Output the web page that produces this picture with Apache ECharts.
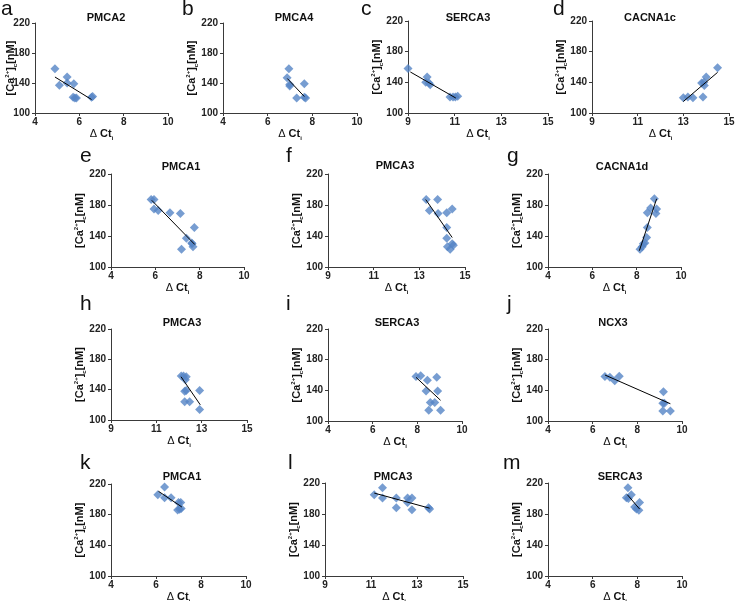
<!DOCTYPE html>
<html>
<head>
<meta charset="utf-8">
<script src="https://cdn.jsdelivr.net/npm/echarts@6/dist/echarts.min.js"></script>
<style>
html,body{margin:0;padding:0;background:#fff;}
#c{width:735px;height:601px;}
</style>
</head>
<body>
<div id="c"></div>
<script>
// ---------- data ----------
const titles = ['PMCA2','PMCA4','SERCA3','CACNA1c','PMCA1','PMCA3','CACNA1d','PMCA3','SERCA3','NCX3','PMCA1','PMCA3','SERCA3'];
const letters = ['a','b','c','d','e','f','g','h','i','j','k','l','m'];
const xTicksLow = [4, 6, 8, 10];
const xTicksHigh = [9, 11, 13, 15];
const yTicks = [100, 140, 180, 220];

const aX = [4.9, 5.1, 5.45, 5.45, 5.75, 5.72, 5.8, 5.87, 6.55, 6.6];
const aY = [159, 137, 148, 140, 139, 121, 120, 120, 121, 122];
const aFitX = [4.9, 6.55], aFitY = [148, 118];

const bX = [6.95, 6.87, 6.99, 6.99, 7.3, 7.64, 7.64, 7.7];
const bY = [159, 147, 138, 136, 120, 139, 121, 120];
const bFitX = [6.88, 7.64], bFitY = [146, 122];

const cX = [9.0, 9.82, 9.76, 9.9, 9.95, 10.8, 10.93, 11.03, 11.13];
const cY = [158, 147, 140, 139, 137, 121, 121, 121, 122];
const cFitX = [9.1, 11.05], cFitY = [153.5, 119.5];

const dX = [13.0, 13.2, 13.42, 13.86, 13.8, 13.9, 13.92, 14.0, 14.5];
const dY = [120, 121, 120, 121, 139, 140, 136, 147, 159];
const dFitX = [13.0, 14.5], dFitY = [115, 153];

const eX = [5.81, 5.94, 5.94, 6.13, 6.66, 7.13, 7.76, 7.4, 7.66, 7.7, 7.64, 7.18];
const eY = [187, 187, 175, 173, 170, 169, 151, 137, 130, 126, 131, 123];
const eFitX = [5.84, 7.78], eFitY = [186, 129];

const fX = [13.3, 13.8, 13.44, 13.82, 14.2, 14.44, 14.2, 14.2, 14.23, 14.35, 14.44, 14.49];
const fY = [187, 187, 173, 169, 170, 175, 151, 137, 126, 123, 130, 128];
const fFitX = [13.28, 14.44], fFitY = [187, 138];

const gX = [8.8, 8.48, 8.63, 8.9, 8.87, 8.48, 8.45, 8.3, 8.25, 8.15, 8.37];
const gY = [188, 170, 176, 175, 169, 151, 138, 130, 126, 123, 131];
const gFitX = [8.12, 8.9], gFitY = [121, 188];

const hX = [12.1, 12.2, 12.32, 12.28, 12.25, 12.32, 12.25, 12.47, 12.91, 12.91];
const hY = [158, 158, 157, 153, 138, 139, 124, 124, 139, 114];
const hFitX = [12.09, 12.94], hFitY = [157, 120];

const iX = [7.94, 8.15, 8.45, 8.87, 8.39, 8.91, 8.58, 8.78, 8.51, 9.04];
const iY = [158, 159, 153, 157, 139, 139, 124, 124, 114, 114];
const iFitX = [7.94, 9.04], iFitY = [157, 127];

const jX = [6.55, 6.77, 6.99, 7.19, 9.17, 9.14, 9.21, 9.14, 9.48];
const jY = [158, 157, 152.5, 158.5, 138, 123, 123, 113, 113];
const jFitX = [6.55, 9.48], jFitY = [160, 122.5];

const kX = [6.08, 6.38, 6.38, 6.67, 7.0, 7.1, 6.96, 7.05, 7.12];
const kY = [206, 216, 202, 202, 196, 196, 186, 187, 188];
const kFitX = [6.11, 7.15], kFitY = [210.5, 190];

const lX = [11.14, 11.5, 11.5, 12.1, 12.1, 12.59, 12.59, 12.78, 12.78, 13.5, 13.55];
const lY = [205, 214, 200.5, 200.5, 188, 195, 200.5, 200.5, 185.5, 188, 186.5];
const lFitX = [11.14, 13.55], lFitY = [207, 187.5];

const mX = [7.58, 7.51, 7.73, 7.88, 7.96, 8.07, 8.1, 7.6];
const mY = [214, 201, 205, 189, 186.5, 185, 195, 200];
const mFitX = [7.55, 8.1], mFitY = [205, 186.5];

const panelX = [aX,bX,cX,dX,eX,fX,gX,hX,iX,jX,kX,lX,mX];
const panelY = [aY,bY,cY,dY,eY,fY,gY,hY,iY,jY,kY,lY,mY];
const fitX = [aFitX,bFitX,cFitX,dFitX,eFitX,fFitX,gFitX,hFitX,iFitX,jFitX,kFitX,lFitX,mFitX];
const fitY = [aFitY,bFitY,cFitY,dFitY,eFitY,fFitY,gFitY,hFitY,iFitY,jFitY,kFitY,lFitY,mFitY];
const panelXTicks = [xTicksLow,xTicksLow,xTicksHigh,xTicksHigh,xTicksLow,xTicksHigh,xTicksLow,xTicksHigh,xTicksLow,xTicksLow,xTicksLow,xTicksHigh,xTicksLow];

// ---------- layout ----------
const grids = [
  [35,23,133,90],[223,23,134,90],[408,21,140,92],[592,21,137,92],
  [111,174,133,93],[328,174,137,93],[548,174,133,93],
  [111,329,136,91],[328,329,134,92],[548,329,134,92],
  [111,484,135,92],[325,483,138,93],[548,483,134,93]
];
const yNameGaps = [17,24,24,24,24,24,24,24,24,24,24,24,24];
const titlePos = [
  [106,12],[294,12],[468,12],[650,12],
  [181,161],[395,160],[622,161],
  [182,317],[397,317],[613,317],
  [182,471],[393,471],[620,471]
];
const letterPos = [
  [1,20],[182,20],[361,20],[553,20],
  [80,167],[286,167],[507,167],
  [80,315],[286,315],[507,315],
  [80,474],[288,474],[503,474]
];

const FONT = 'Liberation Sans, Arial, sans-serif';
const AX = '#3a3a3a';
const richBase = {
  t: {fontSize: 11, fontWeight: 'bold', fontFamily: FONT, color: '#111', lineHeight: 14},
  d: {fontSize: 11, fontWeight: 'normal', fontFamily: FONT, color: '#111', lineHeight: 14},
  sup: {fontSize: 6, fontWeight: 'bold', fontFamily: FONT, color: '#111', verticalAlign: 'top', lineHeight: 14},
  sub: {fontSize: 6, fontWeight: 'bold', fontFamily: FONT, color: '#111', verticalAlign: 'bottom', lineHeight: 14}
};

const option = {
  animation: false,
  backgroundColor: '#fff',
  grid: [], xAxis: [], yAxis: [], series: [], graphic: []
};

for (let i = 0; i < titles.length; i++) {
  const g = grids[i];
  option.grid.push({left: g[0], top: g[1], width: g[2], height: g[3], containLabel: false, outerBoundsMode: 'none'});
  const xt = panelXTicks[i];
  option.xAxis.push({
    gridIndex: i, type: 'value', min: xt[0], max: xt[xt.length - 1],
    axisLine: {show: true, onZero: false, lineStyle: {color: AX, width: 1}},
    axisTick: {show: true, length: 3, customValues: xt, lineStyle: {color: AX}},
    axisLabel: {customValues: xt, fontSize: 10, fontWeight: 'bold', fontFamily: FONT, color: '#222', margin: 4},
    splitLine: {show: false},
    name: '{d|Δ }{t|Ct}{sub|i}', nameLocation: 'middle', nameGap: 14, nameMoveOverlap: false,
    nameTextStyle: {rich: richBase}
  });
  option.yAxis.push({
    gridIndex: i, type: 'value', min: yTicks[0], max: yTicks[yTicks.length - 1],
    axisLine: {show: true, onZero: false, lineStyle: {color: AX, width: 1}},
    axisTick: {show: true, length: 3, customValues: yTicks, lineStyle: {color: AX}},
    axisLabel: {customValues: yTicks, fontSize: 10, fontWeight: 'bold', fontFamily: FONT, color: '#222', margin: 5},
    splitLine: {show: false},
    name: '{t|[Ca}{sup|2+}{t|]}{sub|c}{t|[nM]}', nameLocation: 'middle', nameRotate: 90, nameGap: yNameGaps[i], nameMoveOverlap: false,
    nameTextStyle: {rich: richBase}
  });
  const pts = panelX[i].map((x, k) => [x, panelY[i][k]]);
  option.series.push({
    type: 'scatter', xAxisIndex: i, yAxisIndex: i, data: pts,
    symbol: 'diamond', symbolSize: 9,
    itemStyle: {color: '#5585C5'}, z: 2
  });
  const fit = fitX[i].map((x, k) => [x, fitY[i][k]]);
  option.series.push({
    type: 'line', xAxisIndex: i, yAxisIndex: i, data: fit,
    symbol: 'none', lineStyle: {color: '#000', width: 1}, z: 3, silent: true
  });
  option.graphic.push({
    type: 'text', x: titlePos[i][0], y: titlePos[i][1],
    style: {text: titles[i], align: 'center', verticalAlign: 'top', fontSize: 11, fontWeight: 'bold', fontFamily: FONT, fill: '#111'}
  });
  option.graphic.push({
    type: 'text', x: letterPos[i][0], y: letterPos[i][1],
    style: {text: letters[i], align: 'left', verticalAlign: 'bottom', fontSize: 21, fontFamily: FONT, fill: '#111'}
  });
}

const chart = echarts.init(document.getElementById('c'), null, {renderer: 'canvas'});
chart.setOption(option);
</script>
</body>
</html>
